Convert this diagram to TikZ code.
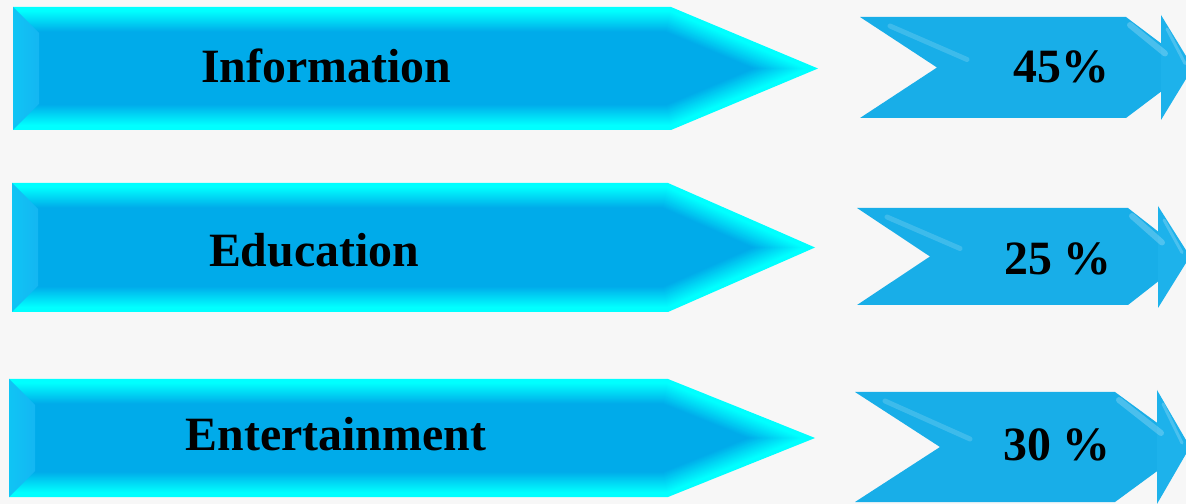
\documentclass[tikz,border=0pt]{standalone}
\usepackage{fontspec}
\setmainfont{Liberation Serif}
\definecolor{bgc}{HTML}{F7F7F7}
\definecolor{cyanc}{HTML}{00FFFF}
\definecolor{bluec}{HTML}{00ABEA}
\definecolor{bevc}{HTML}{14B6F2}
\definecolor{chevc}{HTML}{18AEE8}
\definecolor{headc}{HTML}{1DB2EB}
\tikzset{
  lbl/.style={font=\fontsize{48}{48}\selectfont\bfseries, text=black, anchor=base, inner sep=0pt},
}
\newcommand{\bevarrow}[5]{%
  \pgfmathsetmacro\ym{(#2+#3)/2}%
  \pgfmathsetmacro\hh{\ym-#2}%
  \pgfmathsetmacro\ww{#5-#4}%
  \pgfmathsetmacro\LL{veclen(\ww,\hh)}%
  \foreach \d in {0,...,26}{%
    \pgfmathsetmacro\sx{#4 - \d*\hh/\LL + \d*\ww*(1-\ww/\LL)/\hh}%
    \pgfmathsetmacro\tx{#5 - \d*\LL/\hh}%
    \pgfmathsetmacro\pc{max(0,min(100,100-(\d-4)*4.8))}%
    \fill[cyanc!\pc!bluec] (#1+\d,#2+\d) -- (\sx,#2+\d) -- (\tx,\ym) -- (\sx,#3-\d) -- (#1+\d,#3-\d) -- cycle;
  }%
  \shade[left color=bevc!80!cyanc, right color=bevc] (#1,#2) -- (#1+26,#2+26) -- (#1+26,#3-26) -- (#1,#3) -- cycle;
}
% left x, top, bottom, notch x, body end x, head base x, head top, head bottom, tip x
\newcommand{\chevshape}[9]{%
  \pgfmathsetmacro\cy{(#2+#3)/2}%
  \fill[chevc] (#1,#2) -- (#5,#2) -- (#9,\cy) -- (#5,#3) -- (#1,#3) -- (#4,\cy) -- cycle;
  \fill[headc] (#6,#7) -- (#9,\cy) -- (#6,#8) -- cycle;
  \draw[white, opacity=0.22, line width=6pt, line cap=round] (#5+4,#2+8) -- (#6+4,\cy-14);
  \draw[white, opacity=0.2, line width=3pt, line cap=round] (#6+6,#7+14) -- (#9-8,\cy-4);
  \draw[white, opacity=0.16, line width=5pt, line cap=round] (#1+30,#2+9) -- (#4+30,\cy-8);
}
\begin{document}
\begin{tikzpicture}[x=1bp,y=-1bp]
  \useasboundingbox (0,0) rectangle (1186,504);
  \fill[bgc] (0,0) rectangle (1186,504);
  \clip (0,0) rectangle (1186,504);
  % left arrows
  \bevarrow{13}{7}{130}{671}{818}
  \bevarrow{12}{183}{312}{668}{815}
  \bevarrow{9}{379}{497}{668}{815}
  % right chevrons
  \chevshape{860}{17}{118}{937}{1126}{1161}{15}{120}{1193}
  \chevshape{857}{208}{305}{930}{1128}{1158}{206}{308}{1190}
  \chevshape{855}{392}{502}{940}{1115}{1157}{390}{504}{1190}
  % labels
  \node[lbl] (info) at (326,83) {Information};
  \node[lbl] (edu) at (314,267) {Education};
  \node[lbl] (ent) at (336,450) {Entertainment};
  \node[lbl] (p45) at (1061,83) {45\%};
  \node[lbl] (p25) at (1058,275) {25 \%};
  \node[lbl] (p30) at (1057,460) {30 \%};
\end{tikzpicture}
\end{document}
